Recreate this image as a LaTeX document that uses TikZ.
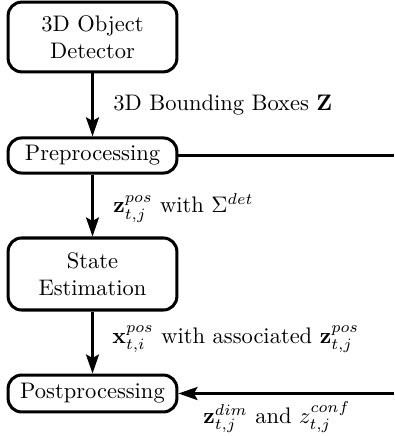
\documentclass[tikz,border=0pt]{standalone}
\usetikzlibrary{arrows.meta}
\begin{document}
\begin{tikzpicture}[x=0.4444pt,y=-0.4444pt,
  box/.style={draw, line width=1.35pt, rounded corners=6pt, minimum width=75pt, align=center, inner sep=0pt},
  conn/.style={line width=1.05pt},
  arr/.style={conn, -{Stealth[length=8.5pt,width=5.8pt,inset=1.6pt]}},
  lbl/.style={inner sep=0pt}]
\useasboundingbox (0,0) rectangle (394,436);
\node[box, minimum height=31pt] (det) at (92.5,37) {3D Object\\Detector};
\node[box, minimum height=15.6pt] (pre) at (92.5,155.5) {Preprocessing};
\node[box, minimum height=32pt] (se) at (92.5,274) {State\\Estimation};
\node[box, minimum height=16.4pt] (post) at (92.5,393.5) {Postprocessing};
\coordinate (r1) at (394,157);
\coordinate (r2) at (394,393);
\draw[arr] (det) -- (pre);
\draw[arr] (pre) -- (se);
\draw[arr] (se) -- (post);
\draw[conn] (pre.east) -- (pre.east -| r1);
\draw[arr] (post.east -| r2) -- (post.east);
\node[lbl, anchor=west] (l1) at (113,105) {3D Bounding Boxes $\mathbf{Z}$};
\node[lbl, anchor=west] (l2) at (113,208) {$\mathbf{z}^{pos}_{t,j}$ with $\Sigma^{det}$};
\node[lbl, anchor=west] (l3) at (112,339) {$\mathbf{x}^{pos}_{t,i}$ with associated $\mathbf{z}^{pos}_{t,j}$};
\node[lbl, anchor=west] (l4) at (203,417) {$\mathbf{z}^{dim}_{t,j}$ and $z^{conf}_{t,j}$};
\end{tikzpicture}
\end{document}
